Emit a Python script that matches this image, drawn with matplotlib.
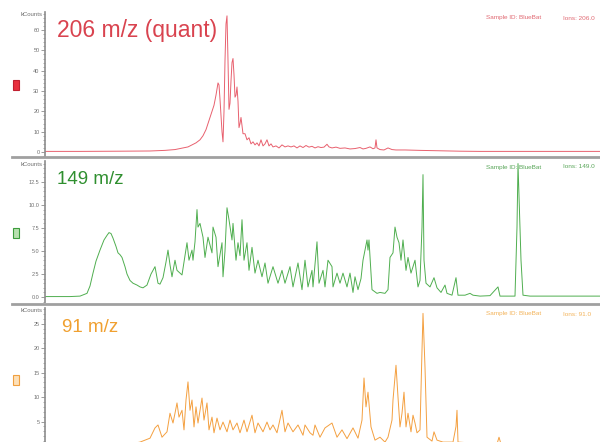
import matplotlib.pyplot as plt
from matplotlib.lines import Line2D
from matplotlib.patches import Rectangle
from matplotlib.ticker import MultipleLocator, FormatStrFormatter

# retention time (scan units) and intensity (kCounts)
trace_206 = [
    (4.5, 0.3), (8.0, 0.3), (12.0, 0.4), (15.0, 0.5), (16.5, 0.8), (17.5, 1.2), (18.3, 2.0),
    (18.8, 2.5), (19.2, 3.5), (19.6, 4.5), (20.0, 6.0), (20.3, 8.0), (20.6, 11.0), (20.8, 14.0),
    (21.0, 17.0), (21.2, 20.0), (21.4, 23.0), (21.6, 28.0), (21.8, 34.0), (21.9, 33.0),
    (22.0, 26.0), (22.1, 18.0), (22.2, 10.0), (22.3, 5.0), (22.4, 20.0), (22.5, 45.0),
    (22.6, 63.0), (22.7, 67.0), (22.8, 45.0), (22.9, 21.0), (23.0, 24.0), (23.1, 35.0),
    (23.2, 44.0), (23.3, 46.0), (23.4, 38.0), (23.5, 27.0), (23.6, 28.0), (23.7, 32.0),
    (23.8, 25.0), (23.9, 12.0), (24.0, 14.0), (24.1, 17.0), (24.2, 13.0), (24.3, 9.0),
    (24.5, 9.0), (24.7, 6.0), (24.9, 7.0), (25.1, 4.0), (25.3, 5.0), (25.5, 3.5), (25.7, 4.5),
    (25.9, 3.0), (26.1, 6.0), (26.3, 3.0), (26.5, 4.0), (26.7, 6.0), (26.9, 3.0), (27.1, 4.0),
    (27.3, 2.5), (27.6, 3.0), (27.9, 2.0), (28.2, 3.5), (28.5, 2.5), (28.8, 3.0), (29.1, 2.5),
    (29.4, 3.0), (29.7, 2.0), (30.0, 3.0), (30.3, 2.2), (30.6, 3.2), (30.9, 2.4), (31.2, 2.8),
    (31.5, 2.0), (31.8, 2.6), (32.1, 2.2), (32.4, 2.4), (32.7, 3.8), (32.9, 2.5), (33.2, 2.0),
    (33.6, 2.4), (34.0, 1.8), (34.5, 2.0), (35.0, 1.5), (35.5, 1.7), (36.0, 2.2), (36.3, 1.5),
    (36.6, 1.8), (37.0, 2.5), (37.3, 1.6), (37.5, 2.0), (37.6, 6.0), (37.7, 2.0), (38.0, 1.2),
    (38.4, 1.0), (38.8, 2.0), (39.2, 1.2), (39.6, 1.0), (40.5, 1.0), (42.0, 0.8), (44.0, 0.6),
    (46.0, 0.4), (48.0, 0.3), (52.0, 0.3), (60.0, 0.3),
]

trace_149 = [
    (4.5, 0.05), (6.0, 0.05), (7.0, 0.05), (8.0, 0.1), (8.7, 0.4), (9.0, 1.2), (9.3, 2.6),
    (9.6, 3.9), (10.0, 5.1), (10.4, 6.2), (10.7, 6.7), (10.9, 7.0), (11.1, 6.9), (11.3, 6.4),
    (11.6, 5.5), (11.8, 4.8), (12.0, 4.6), (12.2, 4.3), (12.5, 3.3), (12.7, 2.5), (13.0, 1.8),
    (13.3, 1.5), (13.7, 1.3), (14.0, 1.1), (14.3, 1.0), (14.7, 1.3), (15.1, 2.5), (15.5, 3.3),
    (15.8, 1.5), (16.0, 1.4), (16.3, 2.1), (16.6, 3.8), (16.8, 5.1), (17.0, 3.5), (17.2, 2.2),
    (17.5, 4.0), (17.7, 2.9), (18.0, 2.6), (18.2, 2.4), (18.5, 4.5), (18.7, 5.9), (18.9, 4.0),
    (19.2, 5.1), (19.3, 4.0), (19.5, 6.0), (19.7, 9.5), (19.8, 7.6), (20.0, 8.0), (20.3, 6.5),
    (20.5, 4.3), (20.8, 6.5), (21.2, 4.8), (21.3, 7.6), (21.6, 6.5), (21.8, 3.3), (22.2, 5.9),
    (22.3, 2.2), (22.5, 5.0), (22.7, 9.7), (22.9, 8.4), (23.2, 6.2), (23.3, 8.0), (23.6, 4.0),
    (23.8, 5.9), (24.0, 4.5), (24.2, 8.4), (24.4, 4.0), (24.7, 5.9), (24.9, 2.9), (25.2, 5.4),
    (25.5, 2.6), (25.8, 4.0), (26.2, 2.2), (26.5, 3.7), (26.8, 1.5), (27.3, 3.3), (27.8, 1.5),
    (28.2, 2.9), (28.5, 1.5), (29.0, 3.3), (29.3, 1.1), (29.8, 3.7), (30.2, 0.8), (30.5, 4.0),
    (30.8, 1.1), (31.2, 2.9), (31.3, 1.1), (31.7, 6.0), (31.9, 1.5), (32.3, 2.9), (32.5, 1.1),
    (32.8, 4.0), (33.2, 3.3), (33.3, 1.1), (33.7, 2.6), (34.0, 1.5), (34.3, 2.6), (34.7, 1.1),
    (35.0, 2.6), (35.3, 0.5), (35.5, 2.2), (35.8, 0.8), (36.1, 2.0), (36.3, 4.0), (36.5, 5.1),
    (36.7, 6.2), (36.8, 5.1), (36.9, 6.2), (37.2, 0.8), (37.7, 0.4), (38.0, 0.5), (38.5, 0.4),
    (38.8, 0.8), (39.0, 4.3), (39.3, 4.8), (39.5, 7.6), (39.7, 6.5), (39.9, 5.9), (40.1, 4.0),
    (40.3, 6.2), (40.6, 2.9), (40.8, 4.3), (41.1, 2.6), (41.5, 4.0), (41.8, 1.1), (42.0, 1.8),
    (42.2, 7.6), (42.3, 13.3), (42.4, 4.0), (42.6, 1.5), (43.0, 1.1), (43.4, 2.1), (43.7, 1.0),
    (44.1, 0.5), (44.5, 1.3), (44.7, 0.4), (45.2, 0.2), (45.6, 2.1), (45.8, 0.2), (46.5, 0.2),
    (47.0, 0.4), (47.3, 0.2), (48.0, 0.1), (49.0, 0.15), (49.8, 1.1), (50.0, 0.1), (51.5, 0.1),
    (51.7, 7.6), (51.8, 14.5), (52.1, 4.0), (52.3, 0.2), (53.0, 0.1), (60.0, 0.1),
]

trace_91 = [
    (4.5, 0.3), (10.0, 0.3), (13.0, 0.4), (14.0, 0.8), (15.0, 1.6), (15.5, 3.7), (15.8, 4.3),
    (16.2, 1.8), (16.7, 2.9), (17.0, 6.7), (17.3, 4.7), (17.5, 6.7), (17.7, 8.8), (17.9, 5.9),
    (18.2, 7.3), (18.4, 3.3), (18.6, 9.4), (18.8, 13.1), (19.0, 7.3), (19.2, 9.4), (19.4, 3.9),
    (19.6, 8.0), (19.8, 4.7), (20.2, 9.8), (20.4, 5.3), (20.7, 8.8), (20.9, 3.3), (21.2, 5.9),
    (21.4, 2.7), (21.7, 5.7), (22.0, 3.3), (22.3, 4.9), (22.7, 2.9), (23.0, 5.3), (23.3, 3.3),
    (23.7, 4.7), (24.0, 2.7), (24.4, 5.3), (24.7, 2.9), (25.2, 6.3), (25.5, 2.7), (25.8, 4.7),
    (26.3, 2.9), (26.7, 4.9), (27.0, 3.3), (27.3, 4.3), (27.7, 2.7), (28.2, 7.3), (28.5, 2.9),
    (28.8, 4.7), (29.3, 2.9), (29.8, 4.3), (30.3, 2.2), (30.5, 4.3), (31.0, 2.7), (31.3, 2.2),
    (31.5, 4.3), (32.0, 1.8), (32.5, 3.7), (33.2, 4.7), (33.7, 1.8), (34.2, 3.3), (34.7, 1.5),
    (35.3, 3.7), (35.8, 1.6), (36.2, 5.3), (36.4, 13.9), (36.6, 8.0), (36.8, 11.0), (37.1, 3.9),
    (37.5, 1.2), (38.0, 1.8), (38.5, 0.8), (38.8, 1.8), (39.2, 5.3), (39.3, 9.4), (39.6, 16.5),
    (39.8, 10.0), (40.0, 3.9), (40.2, 6.7), (40.4, 11.0), (40.6, 3.9), (40.8, 6.7), (41.1, 2.9),
    (41.3, 6.3), (41.5, 4.7), (41.7, 2.7), (42.0, 3.3), (42.2, 19.6), (42.3, 27.1), (42.5, 16.1),
    (42.7, 1.8), (43.2, 1.0), (43.4, 2.9), (43.7, 1.2), (44.3, 0.8), (45.3, 0.8), (45.6, 4.0),
    (45.7, 7.3), (45.8, 0.8), (47.3, 0.6), (48.5, 0.4), (49.7, 0.4), (49.9, 1.8), (50.1, 0.4),
    (52.0, 0.3), (60.0, 0.3),
]

labels = ['206 m/z (quant)', '149 m/z', '91 m/z']
ions = ['Ions: 206.0', 'Ions: 149.0', 'Ions: 91.0']

W, H = 600, 442


def fx(px):
    return px / W


def fy(py):
    return 1 - py / H


fig = plt.figure(figsize=(6, 4.42), dpi=100)
plt.rcParams['font.family'] = ['Liberation Sans', 'DejaVu Sans']

# one entry per panel: trace, colours, pixel band, y-range and tick steps
panels = [
    dict(data=trace_206, line='#e8606e', text='#d9434f', face='#e8303e', edge='#c02030',
         top=12, bottom=157, ylim=(-2.46, 68.9), major=10, minor=2, fmt='%d',
         label_x=57, label_y=31, label_size=16.5, box_y=80),
    dict(data=trace_149, line='#4fae4f', text='#2f8f2f', face='#b8e0b0', edge='#3c9c3c',
         top=161, bottom=302, ylim=(-0.54, 14.78), major=2.5, minor=0.5, fmt='%.1f',
         label_x=57, label_y=180, label_size=13.5, box_y=228),
    dict(data=trace_91, line='#f4a040', text='#f0a030', face='#fde0b8', edge='#f0a040',
         top=308, bottom=442, ylim=(0.82, 28.2), major=5, minor=1, fmt='%d',
         label_x=62, label_y=327, label_size=13.5, box_y=375),
]

for i, p in enumerate(panels):
    ax = fig.add_axes([fx(45), fy(p['bottom']), fx(555), (p['bottom'] - p['top']) / H])
    rt = [d[0] for d in p['data']]
    kc = [d[1] for d in p['data']]
    ax.plot(rt, kc, color=p['line'], lw=0.7)
    ax.set_xlim(4.5, 60)
    ax.set_ylim(*p['ylim'])
    for s in ['top', 'right', 'bottom']:
        ax.spines[s].set_visible(False)
    ax.spines['left'].set_color('#8c8c8c')
    ax.spines['left'].set_linewidth(1.2)
    ax.set_xticks([])
    ax.yaxis.set_major_locator(MultipleLocator(p['major']))
    ax.yaxis.set_minor_locator(MultipleLocator(p['minor']))
    ax.yaxis.set_major_formatter(FormatStrFormatter(p['fmt']))
    ax.tick_params(axis='y', which='major', length=3, width=0.6, color='#8c8c8c',
                   labelsize=4, labelcolor='#707070', pad=1)
    ax.tick_params(axis='y', which='minor', length=1.5, width=0.5, color='#8c8c8c')
    ax.patch.set_alpha(0)

    fig.text(fx(p['label_x']), fy(p['label_y']), labels[i], color=p['text'],
             fontsize=p['label_size'], va='center', ha='left')
    fig.text(fx(43), fy(p['top'] + 3), 'kCounts', color='#707070', fontsize=4.3,
             ha='right', va='center')
    fig.text(fx(486), fy(p['top'] + 6), 'Sample ID: BlueBat', color=p['text'], fontsize=4.6,
             ha='left', va='center', alpha=0.8)
    fig.text(fx(563), fy(p['top'] + 6), ions[i], color=p['text'], fontsize=4.6,
             ha='left', va='center', alpha=0.8)
    fig.add_artist(Rectangle((fx(13), fy(p['box_y'] + 10)), 6 / W, 10 / H,
                             facecolor=p['face'], edgecolor=p['edge'], lw=0.8,
                             transform=fig.transFigure))

# grey separators between the panels
for y in [157, 304]:
    fig.add_artist(Line2D([fx(12), 1], [fy(y), fy(y)], color='#a0a0a0', lw=2))

plt.savefig('out.png', dpi=100)
